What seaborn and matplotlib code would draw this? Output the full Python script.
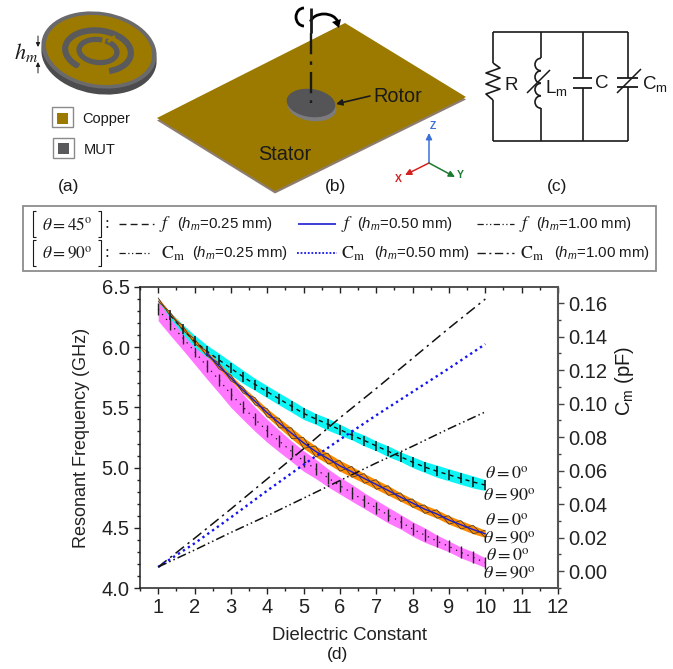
import numpy as np
import pandas as pd
import matplotlib
matplotlib.use('Agg')
import matplotlib.pyplot as plt
import seaborn as sns
from matplotlib.patches import Arc, Ellipse, Polygon, Rectangle
from matplotlib.ticker import MultipleLocator

# x grid of the bands, every third of a unit
eps = [1, 1.33, 1.67, 2, 2.33, 2.67, 3, 3.33, 3.67, 4, 4.33, 4.67, 5, 5.33, 5.67,
       6, 6.33, 6.67, 7, 7.33, 7.67, 8, 8.33, 8.67, 9, 9.33, 9.67, 10]
cyan_top = [6.40, 6.29, 6.19, 6.10, 6.02, 5.95, 5.88, 5.81, 5.74, 5.68, 5.62, 5.56, 5.50, 5.45,
            5.41, 5.36, 5.31, 5.27, 5.22, 5.18, 5.13, 5.09, 5.05, 5.02, 4.99, 4.96, 4.93, 4.90]
cyan_bot = [6.38, 6.24, 6.11, 6.00, 5.92, 5.84, 5.77, 5.70, 5.64, 5.58, 5.52, 5.46, 5.40, 5.36,
            5.31, 5.27, 5.23, 5.18, 5.14, 5.09, 5.05, 5.00, 4.96, 4.92, 4.89, 4.86, 4.83, 4.81]
orange_top = [6.41, 6.29, 6.18, 6.07, 5.97, 5.87, 5.77, 5.67, 5.58, 5.49, 5.41, 5.33, 5.25, 5.18,
              5.12, 5.06, 5.01, 4.95, 4.90, 4.85, 4.79, 4.74, 4.69, 4.65, 4.60, 4.56, 4.52, 4.48]
orange_bot = [6.38, 6.26, 6.14, 6.03, 5.93, 5.82, 5.72, 5.62, 5.52, 5.42, 5.33, 5.24, 5.16, 5.09,
              5.03, 4.97, 4.92, 4.87, 4.82, 4.77, 4.72, 4.67, 4.62, 4.58, 4.53, 4.49, 4.45, 4.42]
magenta_top = [6.41, 6.29, 6.18, 6.07, 5.95, 5.84, 5.72, 5.61, 5.50, 5.40, 5.31, 5.22, 5.14, 5.07,
               4.99, 4.92, 4.86, 4.79, 4.73, 4.67, 4.61, 4.55, 4.50, 4.44, 4.39, 4.34, 4.30, 4.25]
magenta_bot = [6.22, 6.10, 5.98, 5.86, 5.74, 5.62, 5.50, 5.40, 5.30, 5.21, 5.13, 5.05, 4.97, 4.91,
               4.84, 4.78, 4.72, 4.66, 4.60, 4.54, 4.49, 4.43, 4.38, 4.34, 4.30, 4.25, 4.21, 4.17]

# capacitance lines on the right axis
eps_cm = [1, 2, 3, 4, 5, 6, 7, 8, 9, 10]
cm_100 = [0.0024, 0.0195, 0.037, 0.055, 0.073, 0.0915, 0.109, 0.127, 0.145, 0.1624]
cm_050 = [0.0024, 0.0165, 0.032, 0.048, 0.0635, 0.0785, 0.093, 0.107, 0.121, 0.1355]
cm_025 = [0.0024, 0.0125, 0.023, 0.033, 0.0435, 0.054, 0.0645, 0.0745, 0.085, 0.095]

x_ticks = [1, 2, 3, 4, 5, 6, 7, 8, 9, 10, 11, 12]
left_ticks = [4.0, 4.5, 5.0, 5.5, 6.0, 6.5]
right_ticks = [0.00, 0.02, 0.04, 0.06, 0.08, 0.10, 0.12, 0.14, 0.16]

sns.set_theme(style='ticks')
plt.rcParams['font.family'] = ['Liberation Sans', 'DejaVu Sans']
plt.rcParams['mathtext.fontset'] = 'custom'
plt.rcParams['mathtext.rm'] = 'Liberation Sans'
plt.rcParams['mathtext.it'] = 'Liberation Sans:italic'
plt.rcParams['mathtext.bf'] = 'Liberation Sans:bold'

W, H = 673, 669
fig = plt.figure(figsize=(W / 100, H / 100), dpi=100, facecolor='white')
ax = fig.add_axes([140 / W, 1 - 588 / H, 418 / W, 301 / H])

# bands
df = pd.DataFrame({'eps': eps, 'cyan_top': cyan_top, 'cyan_bot': cyan_bot,
                   'orange_top': orange_top, 'orange_bot': orange_bot,
                   'magenta_top': magenta_top, 'magenta_bot': magenta_bot})
ax.fill_between(df['eps'], df['magenta_bot'], df['magenta_top'], color='#ff78ff', lw=0, zorder=1)
ax.fill_between(df['eps'], df['cyan_bot'], df['cyan_top'], color='#0ef4f4', lw=0, zorder=1.1)
ax.fill_between(df['eps'], df['orange_bot'], df['orange_top'], color='#fb8a00', lw=0, zorder=1.2)

df['cyan_mid'] = (df['cyan_top'] + df['cyan_bot']) / 2
df['magenta_mid'] = (df['magenta_top'] + df['magenta_bot']) / 2
df['orange_mid'] = (df['orange_top'] + df['orange_bot']) / 2
sns.lineplot(data=df[df['eps'] > 1.2], x='eps', y='cyan_mid', ax=ax, color='#111111', lw=1.0, linestyle=(0, (3, 3)),
             marker='|', markersize=7, markeredgewidth=1.1, markeredgecolor='#111111', zorder=2)
sns.lineplot(data=df, x='eps', y='magenta_mid', ax=ax, color='#111111', lw=0.9, linestyle=(0, (1, 4)),
             marker='|', markersize=8, markeredgewidth=1.0, markeredgecolor='#222222', zorder=1.05)

# the crossing thin lines in the orange band
zig_a = [t if i % 2 == 0 else b for i, (t, b) in enumerate(zip(orange_top, orange_bot))]
zig_b = [b if i % 2 == 0 else t for i, (t, b) in enumerate(zip(orange_top, orange_bot))]
sns.lineplot(x=eps, y=zig_a, ax=ax, color='#333333', lw=0.5, zorder=2)
sns.lineplot(x=eps, y=zig_b, ax=ax, color='#333333', lw=0.5, zorder=2)
sns.lineplot(data=df[df['eps'] > 2.2], x='eps', y='orange_mid', ax=ax, color='#1c1cd0', lw=1.0, zorder=3)

ax.set_xlim(0.5, 12)
ax.set_ylim(4.0, 6.5)
ax.set_xticks(x_ticks)
ax.set_yticks(left_ticks)
ax.set_yticklabels([f'{v:.1f}' for v in left_ticks])
ax.xaxis.set_minor_locator(MultipleLocator(0.5))
ax.yaxis.set_minor_locator(MultipleLocator(0.1))
ax.tick_params(axis='both', which='major', length=4.5, width=1, labelsize=14.5, color='#222222',
               labelcolor='#222222', pad=3)
ax.tick_params(axis='both', which='minor', length=2.5, width=1, color='#222222')
ax.set_xlabel('Dielectric Constant', fontsize=13.3, color='#222222', labelpad=7)
ax.set_ylabel('Resonant Frequency (GHz)', fontsize=13, color='#222222', labelpad=8)
for s in ['left', 'bottom', 'top']:
    ax.spines[s].set_linewidth(1.1)
    ax.spines[s].set_color('#222222')

# top ticks go inward
top = ax.secondary_xaxis('top')
top.set_xticks(x_ticks)
top.xaxis.set_minor_locator(MultipleLocator(0.5))
top.tick_params(axis='x', which='major', direction='in', length=4.5, width=1, labeltop=False, color='#222222')
top.tick_params(axis='x', which='minor', direction='in', length=2.5, width=1, color='#222222')
top.spines['top'].set_visible(False)

# right axis
ax2 = ax.twinx()
sns.lineplot(x=eps_cm, y=cm_100, ax=ax2, color='#111111', lw=1.1, linestyle=(0, (7, 3, 1.5, 3)))
sns.lineplot(x=eps_cm, y=cm_050, ax=ax2, color='#1414f0', lw=1.7, linestyle=(0, (1, 1.5)))
sns.lineplot(x=eps_cm, y=cm_025, ax=ax2, color='#111111', lw=1.1, linestyle=(0, (6, 2, 1, 2, 1, 2)))
ax2.set_ylim(-0.01015, 0.1696)
ax2.set_yticks(right_ticks)
ax2.set_yticklabels([f'{v:.2f}' for v in right_ticks])
ax2.yaxis.set_minor_locator(MultipleLocator(0.01))
ax2.tick_params(axis='y', which='major', length=4.5, width=1, labelsize=14.5, color='#444444',
                labelcolor='#222222', pad=3)
ax2.tick_params(axis='y', which='minor', length=2.5, width=1, color='#444444')
ax2.set_ylabel('')
ax2.grid(False)
ax2.spines['right'].set_linewidth(1.5)
ax2.spines['right'].set_color('#555555')
for s in ['left', 'bottom', 'top']:
    ax2.spines[s].set_visible(False)

# overlay in pixel coordinates for the drawings and free text
ov = fig.add_axes([0, 0, 1, 1], zorder=5)
ov.set_xlim(0, W)
ov.set_ylim(H, 0)
ov.axis('off')
ov.patch.set_alpha(0)

GOLD = '#9c7a00'
GRAY = '#5a5a5c'
INK = '#1a1a1a'


def seg(xs, ys, color=INK, lw=1.2, ls='-', **kw):
    ov.plot(xs, ys, color=color, lw=lw, ls=ls, solid_capstyle='butt', **kw)


def arrow(x0, y0, x1, y1, color=INK, lw=1.0, size=7):
    ov.annotate('', xy=(x1, y1), xytext=(x0, y0),
                arrowprops=dict(arrowstyle='-|>', color=color, lw=lw, mutation_scale=size,
                                shrinkA=0, shrinkB=0))


def bracket(x0, x1, y0, y1):
    seg([x0 + 3, x0, x0, x0 + 3], [y0, y0, y1, y1], lw=0.8)
    seg([x1 - 3, x1, x1, x1 - 3], [y0, y0, y1, y1], lw=0.8)


# panel a
ov.add_patch(Ellipse((99, 56), 116, 76, angle=9, fc='#4c4c4e', ec='none'))
ov.add_patch(Ellipse((99, 50), 116, 76, angle=9, fc='#6a6a6c', ec='none'))
ov.add_patch(Ellipse((99, 50), 107, 69, angle=9, fc=GOLD, ec='none'))
ov.add_patch(Arc((98, 51), 66, 41, angle=6, theta1=135, theta2=55, color=GRAY, lw=4.4))
ov.add_patch(Arc((98, 51), 38, 23, angle=6, theta1=-60, theta2=285, color=GRAY, lw=3.8))
seg([76, 84], [70, 66], color=GOLD, lw=2)
seg([108, 115], [42, 36], color=GOLD, lw=2)
arrow(38, 36, 38, 47, lw=0.7, size=6)
arrow(38, 73, 38, 62, lw=0.7, size=6)
ov.text(14, 52, r'$h_m$', fontsize=16, math_fontfamily='stix', color=INK, va='center')
ov.add_patch(Rectangle((52, 107), 21, 20, fc='white', ec='#8a8a8a', lw=1))
ov.add_patch(Rectangle((57, 113), 11, 11, fc=GOLD, ec='none'))
ov.add_patch(Rectangle((53, 138), 21, 20, fc='white', ec='#8a8a8a', lw=1))
ov.add_patch(Rectangle((58, 143), 11, 11, fc=GRAY, ec='none'))
ov.text(82, 119, 'Copper', fontsize=10.5, color=INK, va='center')
ov.text(84, 150, 'MUT', fontsize=10.5, color=INK, va='center')

# panel b
plate = [(345, 23), (466, 97), (275, 191), (157, 118)]
ov.add_patch(Polygon([(x, y + 2.5) for x, y in plate], fc='#8d7d70', ec='none'))
ov.add_patch(Polygon(plate, fc=GOLD, ec='none'))
ov.add_patch(Ellipse((312, 107), 49, 28, angle=8, fc='#7c7c7e', ec='none'))
ov.add_patch(Ellipse((311, 103), 49, 28, angle=8, fc='#555557', ec='none'))
seg([311, 311], [8, 33], lw=2)
seg([311, 311], [33, 103], lw=1.7, ls=(0, (9, 3, 1.5, 3)))
ov.add_patch(Arc((304, 17), 16, 18, theta1=90, theta2=270, color='black', lw=2))
ov.add_patch(Arc((324, 24), 28, 20, theta1=190, theta2=350, color='black', lw=2))
ov.add_patch(Polygon([(332, 22), (341, 19), (339, 28)], fc='black', ec='none'))
arrow(370, 96, 336, 104, lw=1.2, size=9)
ov.text(373, 97, 'Rotor', fontsize=14.3, color=INK, va='center')
ov.text(258, 155, 'Stator', fontsize=14.3, color=INK, va='center')
arrow(429, 163, 429, 133, color='#3a70d8', lw=1.1, size=9)
arrow(429, 163, 405, 175, color='#d42020', lw=1.1, size=9)
arrow(429, 163, 455, 177, color='#1c7a30', lw=1.1, size=9)
ov.text(433, 126, 'Z', fontsize=7.5, fontweight='bold', color='#3a70d8', ha='center', va='center')
ov.text(398, 179, 'X', fontsize=7.5, fontweight='bold', color='#d42020', ha='center', va='center')
ov.text(460, 175, 'Y', fontsize=7.5, fontweight='bold', color='#1c7a30', ha='center', va='center')

# panel c
seg([493, 628], [32, 32])
seg([493, 628], [141, 141])
seg([493, 493], [32, 63])
seg([493, 493], [100, 141])
seg([541, 541], [32, 58])
seg([541, 541], [108, 141])
seg([583, 583], [32, 78])
seg([583, 583], [88, 141])
seg([628, 628], [32, 78])
seg([628, 628], [87, 141])
seg([493, 500, 486, 500, 486, 500, 486, 493], [63, 68, 73, 78, 84, 89, 94, 100], zorder=3)
for yc in [64.5, 77, 89.5, 102]:
    ov.add_patch(Arc((541, yc), 12, 12.5, theta1=90, theta2=270, color=INK, lw=1.2, zorder=3))
seg([527, 550], [93, 70], lw=1.1)
seg([573, 592], [78, 78], lw=1.3)
seg([573, 592], [88, 88], lw=1.3)
seg([617, 638], [78, 78], lw=1.3, zorder=3)
seg([617, 638], [87, 87], lw=1.3, zorder=3)
seg([617, 641], [93, 69], lw=1.1, zorder=3)
ov.text(504, 86, 'R', fontsize=13.5, color=INK, va='center')
ov.text(545, 88, r'L$_{\mathrm{m}}$', fontsize=13.5, color=INK, va='center')
ov.text(595, 83, 'C', fontsize=13.5, color=INK, va='center')
ov.text(642, 84, r'C$_{\mathrm{m}}$', fontsize=13.5, color=INK, va='center')

for x, lab in [(69, '(a)'), (336, '(b)'), (557, '(c)'), (337, '(d)')]:
    ov.text(x, 655 if lab == '(d)' else 187, lab, fontsize=12.5, color=INK, ha='center', va='center')

# legend box
ov.add_patch(Rectangle((23, 206), 633, 65, fc='white', ec='#8c8c8c', lw=1.3))
ROW1, ROW2 = 224, 253
bracket(33, 101, ROW1 - 13, ROW1 + 13)
bracket(33, 101, ROW2 - 13, ROW2 + 13)
ov.text(42, ROW1, r'$\theta=45^{\mathrm{o}}$', fontsize=12.5, math_fontfamily='stix', color=INK, va='center')
ov.text(42, ROW2, r'$\theta=90^{\mathrm{o}}$', fontsize=12.5, math_fontfamily='stix', color=INK, va='center')
ov.text(105, ROW1, ':', fontsize=12.5, family='Liberation Serif', color=INK, va='center')
ov.text(105, ROW2, ':', fontsize=12.5, family='Liberation Serif', color=INK, va='center')
seg([119, 154], [ROW1, ROW1], lw=1.0, ls=(0, (5, 3)))
seg([298, 336], [ROW1, ROW1], color='#1c1cd0', lw=1.2)
seg([477, 514], [ROW1, ROW1], lw=0.9, ls=(0, (5, 2, 1, 2, 1, 2)))
seg([119, 150], [ROW2, ROW2], lw=0.9, ls=(0, (5, 2, 1, 2, 1, 2)))
seg([297, 337], [ROW2, ROW2], color='#1414f0', lw=1.3, ls=(0, (1, 1)))
seg([477, 514], [ROW2, ROW2], lw=1.0, ls=(0, (6, 2.5, 1.5, 2.5)))
for x in [159, 341, 519]:
    ov.text(x, ROW1, r'$f$', fontsize=13, math_fontfamily='stix', color=INK, va='center')
for x in [161, 341, 520]:
    ov.text(x, ROW2 + 1, r'$\mathrm{C_m}$', fontsize=13, math_fontfamily='stix', color=INK, va='center')
for x, y, v in [(177, ROW1, '0.25'), (357, ROW1, '0.50'), (536, ROW1, '1.00'),
                (192, ROW2, '0.25'), (374, ROW2, '0.50'), (554, ROW2, '1.00')]:
    ov.text(x, y, r'($\mathit{h_m}$=' + v + ' mm)', fontsize=10.8, color=INK, va='center')

# theta labels by the curve ends
for x, y, lab in [(485, 474, '0'), (483, 496, '90'), (485, 521, '0'),
                  (483, 538.5, '90'), (486, 556, '0'), (483, 574, '90')]:
    ov.text(x, y, r'$\theta=' + lab + r'^{\mathrm{o}}$', fontsize=13, math_fontfamily='stix', color=INK, va='center')

ov.text(624, 381, r'C$_{\mathrm{m}}$ (pF)', fontsize=14.5, color=INK, rotation=90, ha='center', va='center')

fig.savefig('out.png', dpi=100)
